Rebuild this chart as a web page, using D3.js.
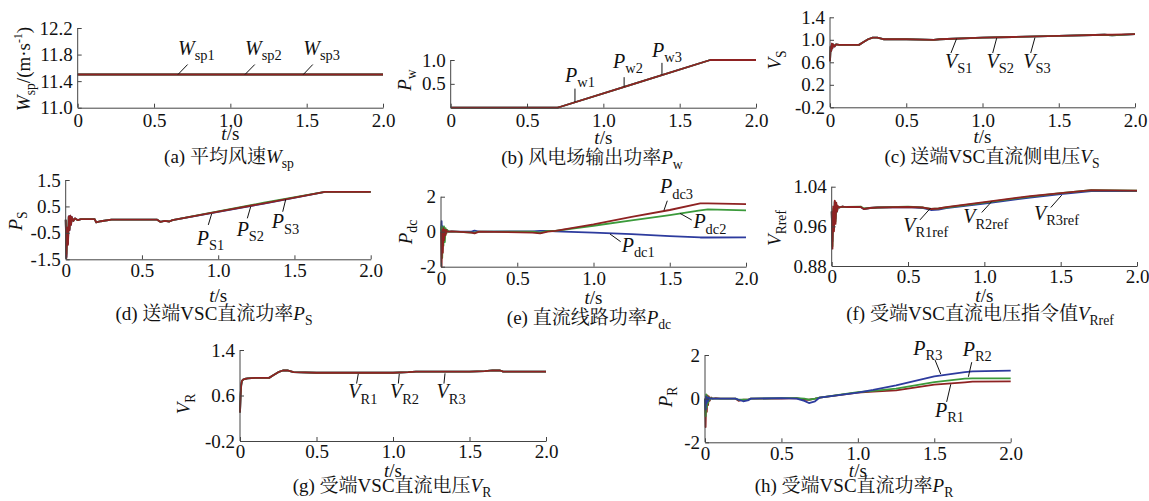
<!DOCTYPE html>
<html>
<head>
<meta charset="utf-8">
<script src="https://cdn.jsdelivr.net/npm/d3@7"></script>
<style>
  body { margin: 0; background: #fff; }
  text { font-family: "Liberation Serif", "Times New Roman", "Noto Serif CJK SC", "Noto Sans CJK SC", serif; fill: #111; }
</style>
</head>
<body>
<div id="chart"></div>
<script>
// ---- data ----
// (a) wind speed
var tA = [0, 0.5, 1.0, 1.5, 2.0];
var wsp1 = [11.5, 11.5, 11.5, 11.5, 11.5];
var wsp2 = [11.5, 11.5, 11.5, 11.5, 11.5];
var wsp3 = [11.5, 11.5, 11.5, 11.5, 11.5];

// (b) wind farm power
var tB = [0, 0.7, 0.72, 1.2, 1.7, 1.75, 2.0];
var pw1 = [0, 0, 0.02, 0.5, 1.0, 1.0, 1.0];
var pw2 = [0, 0, 0.02, 0.5, 1.0, 1.0, 1.0];
var pw3 = [0, 0, 0.02, 0.5, 1.0, 1.0, 1.0];

// (c) sending-end DC voltage
var tC = [0, 0.004, 0.008, 0.012, 0.016, 0.02, 0.03, 0.04, 0.06, 0.1, 0.19, 0.22, 0.25, 0.28, 0.31, 0.35, 0.5, 0.68, 0.72, 1.0, 1.2, 1.5, 1.8, 1.85, 2.0];
var vs1 = [0.62, 0.88, 0.80, 0.93, 0.85, 0.92, 0.88, 0.92, 0.91, 0.91, 0.91, 0.96, 1.01, 1.04, 1.04, 1.01, 1.01, 1.00, 1.01, 1.04, 1.05, 1.07, 1.09, 1.08, 1.10];
var vs2 = [0.62, 0.87, 0.81, 0.92, 0.86, 0.92, 0.89, 0.92, 0.91, 0.91, 0.91, 0.96, 1.01, 1.04, 1.04, 1.01, 1.01, 1.00, 1.01, 1.04, 1.05, 1.07, 1.09, 1.08, 1.10];
var vs3 = [0.62, 0.88, 0.80, 0.93, 0.85, 0.92, 0.88, 0.92, 0.91, 0.91, 0.91, 0.96, 1.01, 1.04, 1.04, 1.01, 1.01, 1.00, 1.01, 1.04, 1.05, 1.07, 1.09, 1.09, 1.10];

// (d) sending-end DC power
var tD = [0, 0.005, 0.01, 0.015, 0.02, 0.025, 0.03, 0.035, 0.04, 0.05, 0.06, 0.08, 0.1, 0.19, 0.2, 0.23, 0.3, 0.6, 0.62, 0.65, 0.68, 0.7, 1.0, 1.3, 1.7, 2.0];
var ps1 = [0, -1.4, -0.3, -0.9, 0.12, -0.4, 0.15, -0.2, 0.1, -0.05, 0.05, -0.02, 0.02, 0.02, -0.1, -0.06, 0.0, 0.0, -0.08, -0.05, -0.07, -0.02, 0.29, 0.61, 1.05, 1.05];
var ps2 = [0, -1.3, -0.4, -0.8, 0.1, -0.35, 0.12, -0.15, 0.08, -0.04, 0.04, -0.02, 0.02, 0.02, -0.1, -0.06, 0.0, 0.0, -0.08, -0.05, -0.07, -0.02, 0.31, 0.64, 1.05, 1.05];
var ps3 = [0, -1.45, -0.3, -0.95, 0.12, -0.4, 0.15, -0.2, 0.1, -0.05, 0.05, -0.02, 0.02, 0.02, -0.1, -0.06, 0.0, 0.0, -0.08, -0.05, -0.07, -0.02, 0.30, 0.62, 1.05, 1.05];

// (e) DC line power
var tE = [0, 0.004, 0.008, 0.012, 0.016, 0.02, 0.025, 0.03, 0.035, 0.04, 0.05, 0.07, 0.1, 0.2, 0.22, 0.25, 0.6, 0.65, 0.7, 0.75, 1.0, 1.25, 1.5, 1.7, 1.75, 2.0];
var pdc1 = [0, 0.6, -1.0, 0.3, -0.4, 0.2, -0.2, 0.1, -0.05, 0.05, 0, 0.02, 0, 0, 0.06, 0, 0.02, 0.05, 0.05, 0.02, -0.05, -0.14, -0.25, -0.33, -0.33, -0.32];
var pdc2 = [0, 0.3, -1.5, 0.2, -0.8, 0.3, -0.6, 0.2, -0.1, 0.1, 0, 0, 0, -0.05, -0.05, 0, 0, -0.06, 0.04, 0.05, 0.34, 0.65, 0.95, 1.22, 1.27, 1.22];
var pdc3 = [0, -2.0, 0.1, -1.2, 0.2, -0.5, 0.1, -0.2, 0.1, 0, 0, 0.02, 0, -0.05, -0.1, 0, -0.05, -0.1, 0.0, 0.05, 0.42, 0.85, 1.24, 1.62, 1.62, 1.58];

// (f) receiving-end DC voltage reference
var tF = [0, 0.005, 0.01, 0.015, 0.02, 0.025, 0.03, 0.035, 0.04, 0.05, 0.07, 0.1, 0.19, 0.21, 0.25, 0.3, 0.5, 0.6, 0.65, 0.7, 0.75, 1.0, 1.3, 1.5, 1.7, 2.0];
var vr1ref = [0.99, 0.93, 0.99, 0.96, 1.01, 0.975, 1.005, 0.99, 1.0, 0.998, 1.0, 0.999, 0.999, 0.995, 0.997, 0.998, 0.999, 0.997, 0.993, 0.994, 0.997, 1.006, 1.018, 1.025, 1.031, 1.031];
var vr2ref = [0.99, 0.92, 0.995, 0.955, 1.01, 0.97, 1.005, 0.99, 1.0, 0.998, 1.0, 0.999, 1.0, 0.996, 0.997, 0.998, 1.0, 0.998, 0.995, 0.996, 0.998, 1.008, 1.02, 1.027, 1.033, 1.032];
var vr3ref = [0.99, 0.915, 1.0, 0.95, 1.012, 0.965, 1.008, 0.99, 1.001, 0.998, 1.0, 0.999, 0.999, 0.995, 0.997, 0.998, 0.999, 0.998, 0.995, 0.996, 0.999, 1.009, 1.021, 1.027, 1.033, 1.032];

// (g) receiving-end DC voltage
var tG = [0, 0.004, 0.008, 0.012, 0.02, 0.03, 0.05, 0.1, 0.19, 0.22, 0.25, 0.28, 0.31, 0.35, 0.5, 0.75, 1.0, 1.1, 1.15, 1.5, 1.6, 1.65, 1.7, 1.72, 2.0];
var vr1 = [0.3, 0.6, 0.78, 0.85, 0.88, 0.89, 0.9, 0.91, 0.91, 0.96, 1.01, 1.04, 1.04, 1.01, 1.0, 1.0, 1.0, 1.01, 1.02, 1.02, 1.03, 1.04, 1.04, 1.02, 1.02];
var vr2 = [0.3, 0.62, 0.78, 0.85, 0.88, 0.89, 0.9, 0.91, 0.91, 0.96, 1.01, 1.04, 1.04, 1.01, 1.0, 1.0, 1.0, 1.01, 1.02, 1.02, 1.03, 1.04, 1.04, 1.02, 1.02];
var vr3 = [0.3, 0.6, 0.79, 0.85, 0.88, 0.89, 0.9, 0.91, 0.91, 0.96, 1.01, 1.04, 1.04, 1.01, 1.0, 1.0, 1.0, 1.01, 1.02, 1.02, 1.03, 1.04, 1.04, 1.02, 1.02];

// (h) receiving-end DC power
var tH = [0, 0.004, 0.008, 0.012, 0.016, 0.02, 0.025, 0.03, 0.04, 0.05, 0.07, 0.1, 0.2, 0.22, 0.25, 0.28, 0.3, 0.5, 0.6, 0.65, 0.68, 0.72, 0.75, 1.0, 1.1, 1.25, 1.5, 1.7, 1.75, 2.0];
var pr1 = [0, -1.3, 0.1, -0.6, 0.15, -0.3, 0.1, -0.1, 0.05, 0, 0.02, 0, 0, -0.1, -0.05, -0.05, 0, 0, 0.02, -0.05, -0.05, 0.0, 0.05, 0.28, 0.32, 0.38, 0.64, 0.75, 0.78, 0.79];
var pr2 = [0, -0.8, 0.2, -0.4, 0.1, -0.2, 0.05, -0.05, 0.02, 0, 0, 0, 0, -0.05, -0.05, -0.05, 0, 0.02, 0.02, 0, -0.05, 0.0, 0.05, 0.3, 0.36, 0.46, 0.76, 0.92, 0.93, 0.93];
var pr3 = [0, -0.5, 0.1, -0.2, 0.05, -0.1, 0.05, 0, 0, 0, 0, 0, 0, -0.05, -0.12, -0.08, 0, 0.02, 0, -0.1, -0.2, -0.12, 0.05, 0.28, 0.4, 0.61, 1.02, 1.22, 1.25, 1.28];

var xTicks = [0, 0.5, 1.0, 1.5, 2.0];

var BLUE = "#2d3b9e", GREEN = "#3b9a3b", RED = "#8e2222";

// ---- layout of the eight panels ----
var panels = [
  { left: 77.7, right: 383, top: 28, bottom: 107.7, yDomain: [11.0, 12.2], yTicks: [11.0, 11.4, 11.8, 12.2], dec: 1,
    tickBase: 127, tsBase: 140, capBase: 163, capX: 229,
    ylab: { x: 30, y: 69, parts: [["W", "i"], ["sp", "sub"], ["/(m·s", ""], ["-1", "sup"], [")", ""]] },
    cap: [["(a) 平均风速", ""], ["W", "i"], ["sp", "sub"]],
    series: [[tA, wsp1, BLUE], [tA, wsp2, GREEN], [tA, wsp3, RED]],
    notes: [
      { m: "W", s: "sp1", at: [0.657, 11.79], ln: [0.657, 11.5, 0.72, 11.65] },
      { m: "W", s: "sp2", at: [1.096, 11.79], ln: [1.096, 11.5, 1.16, 11.65] },
      { m: "W", s: "sp3", at: [1.478, 11.79], ln: [1.478, 11.5, 1.54, 11.65] }] },
  { left: 450.7, right: 756, top: 60, bottom: 107.7, yDomain: [0, 1.0], yTicks: [0.5, 1.0], dec: 1,
    tickBase: 127, tsBase: 144, capBase: 164, capX: 592,
    ylab: { x: 411, y: 80, parts: [["P", "i"], ["w", "sub"]] },
    cap: [["(b) 风电场输出功率", ""], ["P", "i"], ["w", "sub"]],
    series: [[tB, pw1, BLUE], [tB, pw2, GREEN], [tB, pw3, RED]],
    notes: [
      { m: "P", s: "w1", at: [0.749, 0.54], ln: [0.814, 0.12, 0.814, 0.40] },
      { m: "P", s: "w2", at: [1.064, 0.83], ln: [1.136, 0.44, 1.136, 0.64] },
      { m: "P", s: "w3", at: [1.319, 1.06], ln: [1.384, 0.69, 1.384, 0.94] }] },
  { left: 830, right: 1135, top: 17.3, bottom: 107.3, yDomain: [-0.2, 1.4], yTicks: [-0.2, 0.2, 0.6, 1.0, 1.4], dec: 1,
    tickBase: 127, tsBase: 143, capBase: 163, capX: 992,
    ylab: { x: 781, y: 60, parts: [["V", "i"], ["S", "sub"]] },
    cap: [["(c) 送端VSC直流侧电压", ""], ["V", "i"], ["S", "sub"]],
    series: [[tC, vs1, BLUE], [tC, vs2, GREEN], [tC, vs3, RED]],
    notes: [
      { m: "V", s: "S1", at: [0.754, 0.50], ln: [0.83, 1.02, 0.793, 0.765] },
      { m: "V", s: "S2", at: [1.027, 0.50], ln: [1.093, 1.03, 1.067, 0.765] },
      { m: "V", s: "S3", at: [1.268, 0.50], ln: [1.344, 1.04, 1.316, 0.765] }] },
  { left: 65.7, right: 370.7, top: 180, bottom: 259.3, yDomain: [-1.5, 1.5], yTicks: [-1.5, -0.5, 0.5, 1.5], dec: 1,
    tickBase: 277, tsBase: 302, capBase: 320, capX: 214,
    ylab: { x: 22, y: 221, parts: [["P", "i"], ["S", "sub"]] },
    cap: [["(d) 送端VSC直流功率", ""], ["P", "i"], ["S", "sub"]],
    series: [[tD, ps1, BLUE], [tD, ps2, GREEN], [tD, ps3, RED]],
    notes: [
      { m: "P", s: "S1", at: [0.859, -0.96], ln: [0.957, 0.22, 0.935, -0.20] },
      { m: "P", s: "S2", at: [1.121, -0.62], ln: [1.213, 0.49, 1.191, 0.05] },
      { m: "P", s: "S3", at: [1.351, -0.33], ln: [1.443, 0.77, 1.423, 0.30] }] },
  { left: 441, right: 746, top: 196.7, bottom: 266.7, yDomain: [-2, 2], yTicks: [-2, 0, 2], dec: 0,
    tickBase: 285, tsBase: 304, capBase: 324, capX: 589,
    ylab: { x: 412, y: 232, parts: [["P", "i"], ["dc", "sub"]] },
    cap: [["(e) 直流线路功率", ""], ["P", "i"], ["dc", "sub"]],
    series: [[tE, pdc1, BLUE], [tE, pdc2, GREEN], [tE, pdc3, RED]],
    notes: [
      { m: "P", s: "dc3", at: [1.436, 2.19], ln: [1.484, 1.77, 1.462, 1.22] },
      { m: "P", s: "dc2", at: [1.655, 0.19], ln: [1.567, 1.05, 1.644, 0.67] },
      { m: "P", s: "dc1", at: [1.185, -1.14], ln: [1.108, -0.13, 1.178, -0.57] }] },
  { left: 831.7, right: 1137, top: 186.7, bottom: 266, yDomain: [0.88, 1.04], yTicks: [0.88, 0.96, 1.04], dec: 2,
    tickBase: 283, tsBase: 302, capBase: 320, capX: 980,
    ylab: { x: 781, y: 228, parts: [["V", "i"], ["Rref", "sub"]] },
    cap: [["(f) 受端VSC直流电压指令值", ""], ["V", "i"], ["Rref", "sub"]],
    series: [[tF, vr1ref, BLUE], [tF, vr2ref, GREEN], [tF, vr3ref, RED]],
    notes: [
      { m: "V", s: "R1ref", at: [0.469, 0.949], ln: [0.578, 0.973, 0.648, 0.997] },
      { m: "V", s: "R2ref", at: [0.862, 0.966], ln: [0.983, 0.988, 1.048, 1.010] },
      { m: "V", s: "R3ref", at: [1.325, 0.973], ln: [1.435, 0.998, 1.507, 1.023] }] },
  { left: 240, right: 546, top: 350, bottom: 441, yDomain: [-0.2, 1.4], yTicks: [-0.2, 0.6, 1.4], dec: 1,
    tickBase: 458, tsBase: 477, capBase: 492, capX: 392,
    ylab: { x: 190, y: 404, parts: [["V", "i"], ["R", "sub"]] },
    cap: [["(g) 受端VSC直流电压", ""], ["V", "i"], ["R", "sub"]],
    series: [[tG, vr1, BLUE], [tG, vr2, GREEN], [tG, vr3, RED]],
    notes: [
      { m: "V", s: "R1", at: [0.708, 0.55], ln: [0.773, 0.98, 0.762, 0.81] },
      { m: "V", s: "R2", at: [0.98, 0.55], ln: [1.041, 0.98, 1.035, 0.81] },
      { m: "V", s: "R3", at: [1.285, 0.55], ln: [1.34, 0.99, 1.333, 0.81] }] },
  { left: 705, right: 1010.7, top: 355, bottom: 442.3, yDomain: [-2, 2], yTicks: [-2, 0, 2], dec: 0,
    tickBase: 460, tsBase: 477, capBase: 492, capX: 854,
    ylab: { x: 672, y: 397, parts: [["P", "i"], ["R", "sub"]] },
    cap: [["(h) 受端VSC直流功率", ""], ["P", "i"], ["R", "sub"]],
    series: [[tH, pr1, RED], [tH, pr2, GREEN], [tH, pr3, BLUE]],
    notes: [
      { m: "P", s: "R3", at: [1.363, 2.0], ln: [1.505, 1.77, 1.542, 1.13] },
      { m: "P", s: "R2", at: [1.686, 1.97], ln: [1.745, 1.67, 1.723, 1.0] },
      { m: "P", s: "R1", at: [1.505, -0.84], ln: [1.581, -0.15, 1.608, 0.66] }] }
];

var W = 1149, H = 501, FS = 19;

var svg = d3.select("#chart").append("svg")
  .attr("width", W).attr("height", H);
svg.append("rect").attr("width", W).attr("height", H).attr("fill", "#fff");

// rich text helper: main letters italic, sub/sup smaller
function rich(sel, parts, size) {
  var shift = 0;
  parts.forEach(function(p) {
    var ts = sel.append("tspan").text(p[0]);
    var want = 0;
    if (p[1] == "i") ts.style("font-style", "italic");
    if (p[1] == "sub") { ts.style("font-size", (size * 0.72) + "px"); want = size * 0.26; }
    if (p[1] == "sup") { ts.style("font-size", (size * 0.62) + "px"); want = -size * 0.42; }
    ts.attr("dy", want - shift);
    shift = want;
  });
}

panels.forEach(function(p) {
  var x = d3.scaleLinear().domain([0, 2]).range([p.left, p.right]);
  var y = d3.scaleLinear().domain(p.yDomain).range([p.bottom, p.top]);
  var g = svg.append("g");

  // lines
  var line = d3.line().x(function(d) { return x(d[0]); }).y(function(d) { return y(d[1]); });
  p.series.forEach(function(s) {
    g.append("path")
      .datum(d3.zip(s[0], s[1]))
      .attr("fill", "none")
      .attr("stroke", s[2])
      .attr("stroke-width", 1.8)
      .attr("stroke-linejoin", "round")
      .attr("d", line);
  });

  // axes, ticks pointing inward
  var xa = g.append("g")
    .attr("transform", "translate(0," + p.bottom + ")")
    .call(d3.axisBottom(x).tickValues(xTicks).tickSizeInner(-4).tickSizeOuter(0)
      .tickPadding(p.tickBase - p.bottom - 0.71 * FS)
      .tickFormat(function(d) { return d === 0 ? "0" : d.toFixed(1); }));
  var ya = g.append("g")
    .attr("transform", "translate(" + p.left + ",0)")
    .call(d3.axisLeft(y).tickValues(p.yTicks).tickSizeInner(-4).tickSizeOuter(0)
      .tickPadding(5)
      .tickFormat(function(d) { return d.toFixed(p.dec); }));
  [xa, ya].forEach(function(a) {
    a.select(".domain").attr("stroke", "#444");
    a.selectAll(".tick line").attr("stroke", "#444");
    a.selectAll(".tick text").style("font-size", FS + "px").attr("fill", "#111")
      .style("font-family", "'Liberation Serif', serif");
  });
  // y axis line runs up to the top of the plot
  ya.select(".domain").attr("d", "M0," + p.bottom + "V" + p.top);

  // annotations
  p.notes.forEach(function(n) {
    g.append("line")
      .attr("x1", x(n.ln[0])).attr("y1", y(n.ln[1]))
      .attr("x2", x(n.ln[2])).attr("y2", y(n.ln[3]))
      .attr("stroke", "#111").attr("stroke-width", 1);
    var t = g.append("text")
      .attr("x", x(n.at[0])).attr("y", y(n.at[1]))
      .style("font-size", "20px");
    rich(t, [[n.m, "i"], [n.s, "sub"]], 20);
  });

  // axis title t/s
  var ts = g.append("text")
    .attr("x", (p.left + p.right) / 2).attr("y", p.tsBase)
    .attr("text-anchor", "middle").style("font-size", FS + "px");
  rich(ts, [["t", "i"], ["/s", ""]], FS);

  // y label
  var yl = g.append("text")
    .attr("transform", "translate(" + p.ylab.x + "," + p.ylab.y + ") rotate(-90)")
    .attr("text-anchor", "middle").style("font-size", FS + "px");
  rich(yl, p.ylab.parts, FS);

  // caption
  var cp = g.append("text")
    .attr("x", p.capX).attr("y", p.capBase)
    .attr("text-anchor", "middle").style("font-size", FS + "px");
  rich(cp, p.cap, FS);
});
</script>
</body>
</html>
